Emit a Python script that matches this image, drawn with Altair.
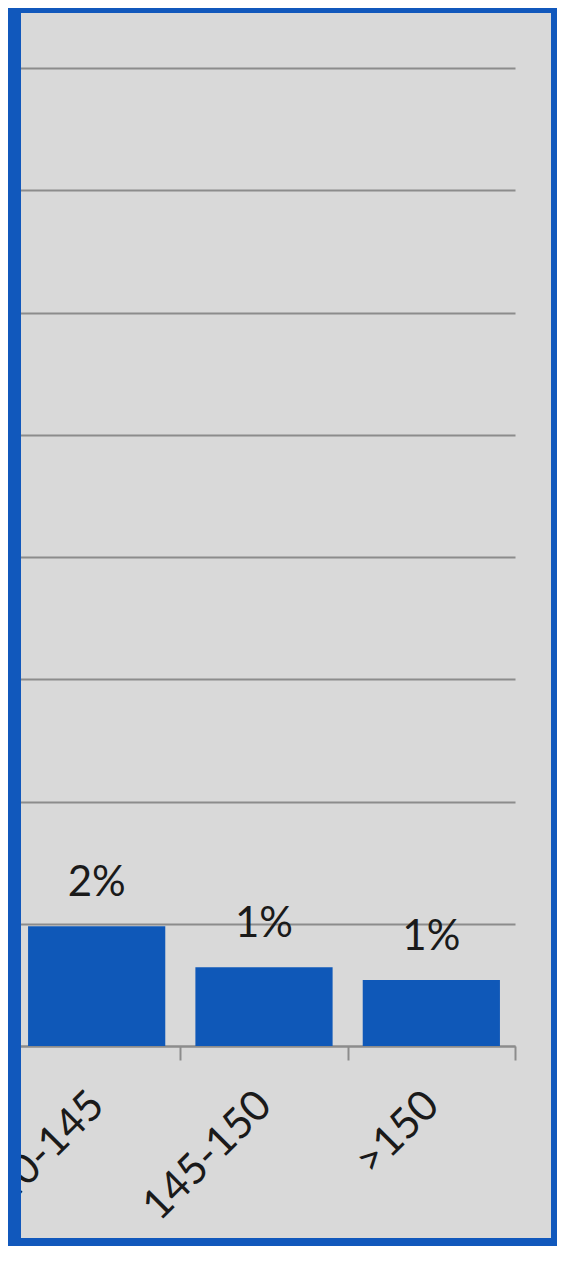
import altair as alt
import pandas as pd

categories = ["140-145", "145-150", ">150"]
shares = [0.0196, 0.0129, 0.0108]
y_ticks = [0.0, 0.02, 0.04, 0.06, 0.08, 0.10, 0.12, 0.14, 0.16]

df = pd.DataFrame({"cat": categories, "share": shares})

BLUE = "#0f58b8"
GRID = "#8c8c8c"
FONT = "Lato"

base = alt.Chart(df)

x_enc = alt.X(
    "cat:N",
    sort=categories,
    scale=alt.Scale(paddingInner=0, paddingOuter=0),
    axis=alt.Axis(
        title=None,
        labelAngle=-45,
        labelFont=FONT,
        labelFontSize=42,
        labelColor="#1a1a1a",
        labelPadding=24,
        labelOffset=-14,
        domainColor=GRID,
        domainWidth=2,
        tickColor=GRID,
        tickWidth=2,
        tickSize=14,
        tickBand="extent",
        grid=False,
    ),
)
y_enc = alt.Y(
    "share:Q",
    scale=alt.Scale(domain=[0, 0.16], nice=False),
    axis=alt.Axis(
        title=None,
        values=y_ticks,
        labels=False,
        ticks=False,
        domain=False,
        grid=True,
        gridColor=GRID,
        gridWidth=2,
    ),
)

bars = base.mark_bar(color=BLUE, width={"band": 0.82}).encode(x=x_enc, y=y_enc)

labels = base.mark_text(
    font=FONT, fontSize=42, color="#1a1a1a", baseline="alphabetic", dy=-30
).encode(
    x=alt.X("cat:N", sort=categories),
    y="share:Q",
    text=alt.Text("share:Q", format=".0%"),
)

one = alt.Data(values=[{"k": 1}])
def frame(x1, x2, y1, y2):
    return alt.Chart(one).mark_rect(color="#1158bc").encode(
        x=alt.value(x1), x2=alt.value(x2), y=alt.value(y1), y2=alt.value(y2)
    )

border = [
    frame(-5, 8, -60, 1178),
    frame(-5, 544, -60, -55),
    frame(538, 544, -60, 1178),
    frame(-5, 544, 1170, 1178),
]

chart = alt.layer(bars, labels, *border).properties(
    width=502,
    height=978,
    padding={"left": 5, "top": 60, "right": 42, "bottom": 200},
    autosize=alt.AutoSizeParams(type="none"),
    background="#d9d9d9",
).configure_view(stroke=None)

chart.save("out.html", embed_options={"renderer": "svg", "actions": False})
